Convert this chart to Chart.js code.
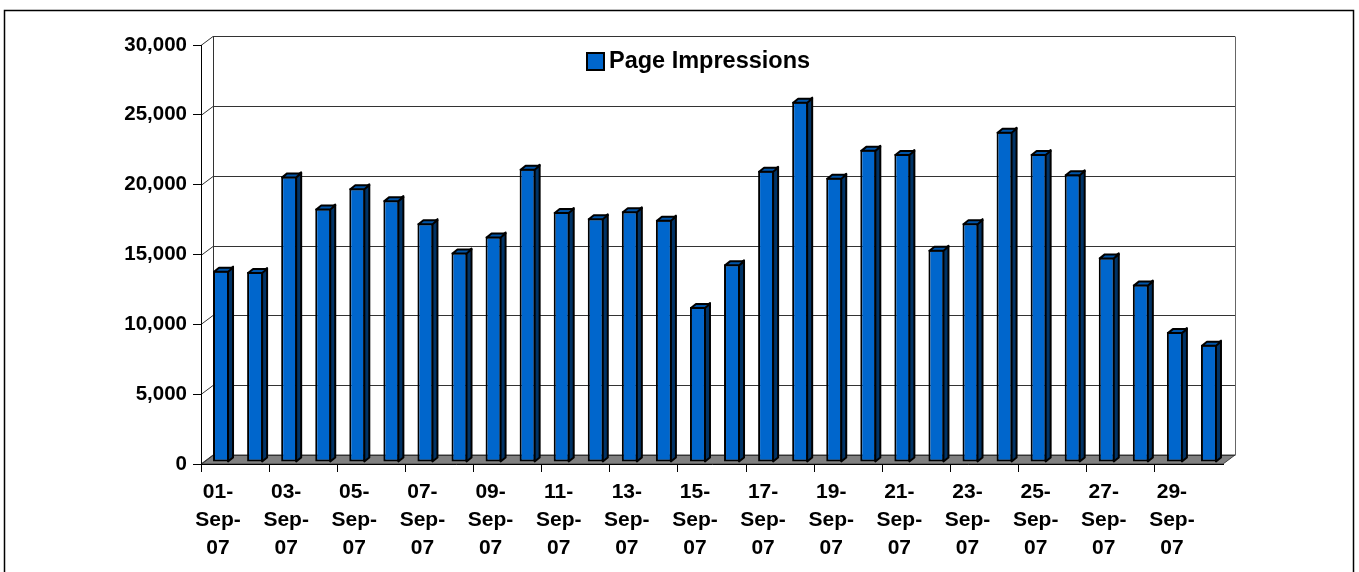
<!DOCTYPE html>
<html>
<head>
<meta charset="utf-8">
<script src="https://cdn.jsdelivr.net/npm/chart.js@4/dist/chart.umd.min.js"></script>
<style>
  html, body { margin: 0; padding: 0; background: #fff; }
  canvas { display: block; }
</style>
</head>
<body>
<canvas id="chart" width="1359" height="572"></canvas>
<script>
const days = [
  '01-Sep-07', '02-Sep-07', '03-Sep-07', '04-Sep-07', '05-Sep-07', '06-Sep-07',
  '07-Sep-07', '08-Sep-07', '09-Sep-07', '10-Sep-07', '11-Sep-07', '12-Sep-07',
  '13-Sep-07', '14-Sep-07', '15-Sep-07', '16-Sep-07', '17-Sep-07', '18-Sep-07',
  '19-Sep-07', '20-Sep-07', '21-Sep-07', '22-Sep-07', '23-Sep-07', '24-Sep-07',
  '25-Sep-07', '26-Sep-07', '27-Sep-07', '28-Sep-07', '29-Sep-07', '30-Sep-07'
];
const pageImpressions = [
  13700, 13600, 20450, 18150, 19600, 18750, 17100, 15000, 16150, 21000,
  17900, 17450, 17950, 17350, 11100, 14150, 20850, 25800, 20350, 22350,
  22050, 15200, 17100, 23650, 22050, 20600, 14650, 12700, 9300, 8400
];
const yTicks = [0, 5000, 10000, 15000, 20000, 25000, 30000];

const FONT = 'Arial, "Liberation Sans", sans-serif';
const BLUE = '#0066CC';

// offsets for the fake 3D look
const WALL_DX = 12, WALL_DY = -9;   // back wall vs front plane
const BAR_DX = 5, BAR_DY = -4;      // bar depth
const SHIFT_X = 3, SHIFT_Y = -2;    // bars sit a bit behind the front plane

const excel3d = {
  id: 'excel3d',
  beforeDraw(chart) {
    const { ctx, chartArea: a, scales: { y } } = chart;
    ctx.save();

    // outer frame
    ctx.strokeStyle = '#000';
    ctx.lineWidth = 1.5;
    ctx.strokeRect(4.5, 10.5, 1349, 700);

    // floor
    ctx.fillStyle = '#808080';
    ctx.beginPath();
    ctx.moveTo(a.left, a.bottom);
    ctx.lineTo(a.right, a.bottom);
    ctx.lineTo(a.right + WALL_DX, a.bottom + WALL_DY);
    ctx.lineTo(a.left + WALL_DX, a.bottom + WALL_DY);
    ctx.closePath();
    ctx.fill();
    ctx.strokeStyle = '#404040';
    ctx.lineWidth = 1;
    ctx.stroke();

    // back wall grid lines + left wall diagonals
    ctx.strokeStyle = '#333';
    ctx.lineWidth = 1;
    yTicks.forEach(v => {
      const fy = Math.round(y.getPixelForValue(v)) + 0.5;
      const by = fy + WALL_DY;
      ctx.beginPath();
      ctx.moveTo(a.left + WALL_DX, by);
      ctx.lineTo(a.right + WALL_DX, by);
      ctx.stroke();
      ctx.beginPath();
      ctx.moveTo(a.left, fy);
      ctx.lineTo(a.left + WALL_DX, by);
      ctx.stroke();
    });

    // wall edges
    const top = Math.round(y.getPixelForValue(30000)) + WALL_DY + 0.5;
    const bot = Math.round(y.getPixelForValue(0)) + WALL_DY + 0.5;
    ctx.beginPath();
    ctx.moveTo(a.left + WALL_DX + 0.5, top);
    ctx.lineTo(a.left + WALL_DX + 0.5, bot);
    ctx.stroke();
    ctx.strokeStyle = '#666';
    ctx.beginPath();
    ctx.moveTo(a.right + WALL_DX + 0.5, top);
    ctx.lineTo(a.right + WALL_DX + 0.5, bot);
    ctx.stroke();
    ctx.restore();
  },
  beforeDatasetsDraw(chart) {
    chart.ctx.save();
    chart.ctx.translate(SHIFT_X, SHIFT_Y);
  },
  afterDatasetsDraw(chart) {
    const ctx = chart.ctx;
    const meta = chart.getDatasetMeta(0);
    ctx.lineWidth = 2;
    ctx.strokeStyle = '#000';
    ctx.lineJoin = 'round';
    meta.data.forEach(bar => {
      const l = bar.x - bar.width / 2, r = bar.x + bar.width / 2;
      const t = bar.y, b = bar.base;
      // side face
      ctx.fillStyle = '#003366';
      ctx.beginPath();
      ctx.moveTo(r - 1, t);
      ctx.lineTo(r - 1 + BAR_DX, t + BAR_DY);
      ctx.lineTo(r - 1 + BAR_DX, b + BAR_DY);
      ctx.lineTo(r - 1, b);
      ctx.closePath();
      ctx.fill();
      ctx.stroke();
      // top face
      ctx.fillStyle = '#0055aa';
      ctx.beginPath();
      ctx.moveTo(l + 1, t + 1);
      ctx.lineTo(l + 1 + BAR_DX, t + 1 + BAR_DY);
      ctx.lineTo(r - 1 + BAR_DX, t + 1 + BAR_DY);
      ctx.lineTo(r - 1, t + 1);
      ctx.closePath();
      ctx.fill();
      ctx.stroke();
    });
    ctx.restore();
  },
  afterDraw(chart) {
    // legend
    const ctx = chart.ctx;
    ctx.save();
    ctx.fillStyle = BLUE;
    ctx.fillRect(587, 53, 17, 17);
    ctx.strokeStyle = '#000';
    ctx.lineWidth = 2;
    ctx.strokeRect(587, 53, 17, 17);
    ctx.fillStyle = '#000';
    ctx.font = 'bold 23.5px ' + FONT;
    ctx.textBaseline = 'middle';
    ctx.textAlign = 'left';
    ctx.fillText(chart.data.datasets[0].label, 609, 62);
    ctx.restore();
  }
};

new Chart(document.getElementById('chart'), {
  type: 'bar',
  data: {
    labels: days,
    datasets: [{
      label: 'Page Impressions',
      data: pageImpressions,
      backgroundColor: BLUE,
      borderColor: '#000',
      borderWidth: 2,
      borderSkipped: false,
      barPercentage: 0.47,
      categoryPercentage: 1
    }]
  },
  options: {
    responsive: false,
    devicePixelRatio: 1,
    animation: false,
    layout: { padding: { left: 0, right: 136, top: 45, bottom: 0 } },
    plugins: {
      legend: { display: false },
      tooltip: { enabled: false }
    },
    scales: {
      x: {
        afterFit: s => { s.height = 108; },
        grid: {
          offset: true,
          drawOnChartArea: false,
          drawTicks: true,
          tickLength: 8,
          color: c => (c.index % 2 === 0 ? '#000' : 'rgba(0,0,0,0)')
        },
        border: { display: true, color: '#000', width: 1 },
        ticks: {
          autoSkip: false,
          maxRotation: 0,
          padding: 6,
          color: '#000',
          font: { family: FONT, size: 21, weight: 'bold', lineHeight: 1.333 },
          callback: function (value, index) {
            if (index % 2 !== 0) return '';
            const parts = days[index].split('-');
            return [parts[0] + '-', parts[1] + '-', parts[2]];
          }
        }
      },
      y: {
        min: 0,
        max: 30000,
        afterFit: s => { s.width = 201; },
        grid: {
          drawOnChartArea: false,
          drawTicks: true,
          tickLength: 8,
          color: '#000'
        },
        border: { display: true, color: '#000', width: 1 },
        ticks: {
          stepSize: 5000,
          padding: 6,
          color: '#000',
          font: { family: FONT, size: 20.5, weight: 'bold' },
          callback: v => v.toLocaleString('en-US')
        }
      }
    }
  },
  plugins: [excel3d]
});
</script>
</body>
</html>
